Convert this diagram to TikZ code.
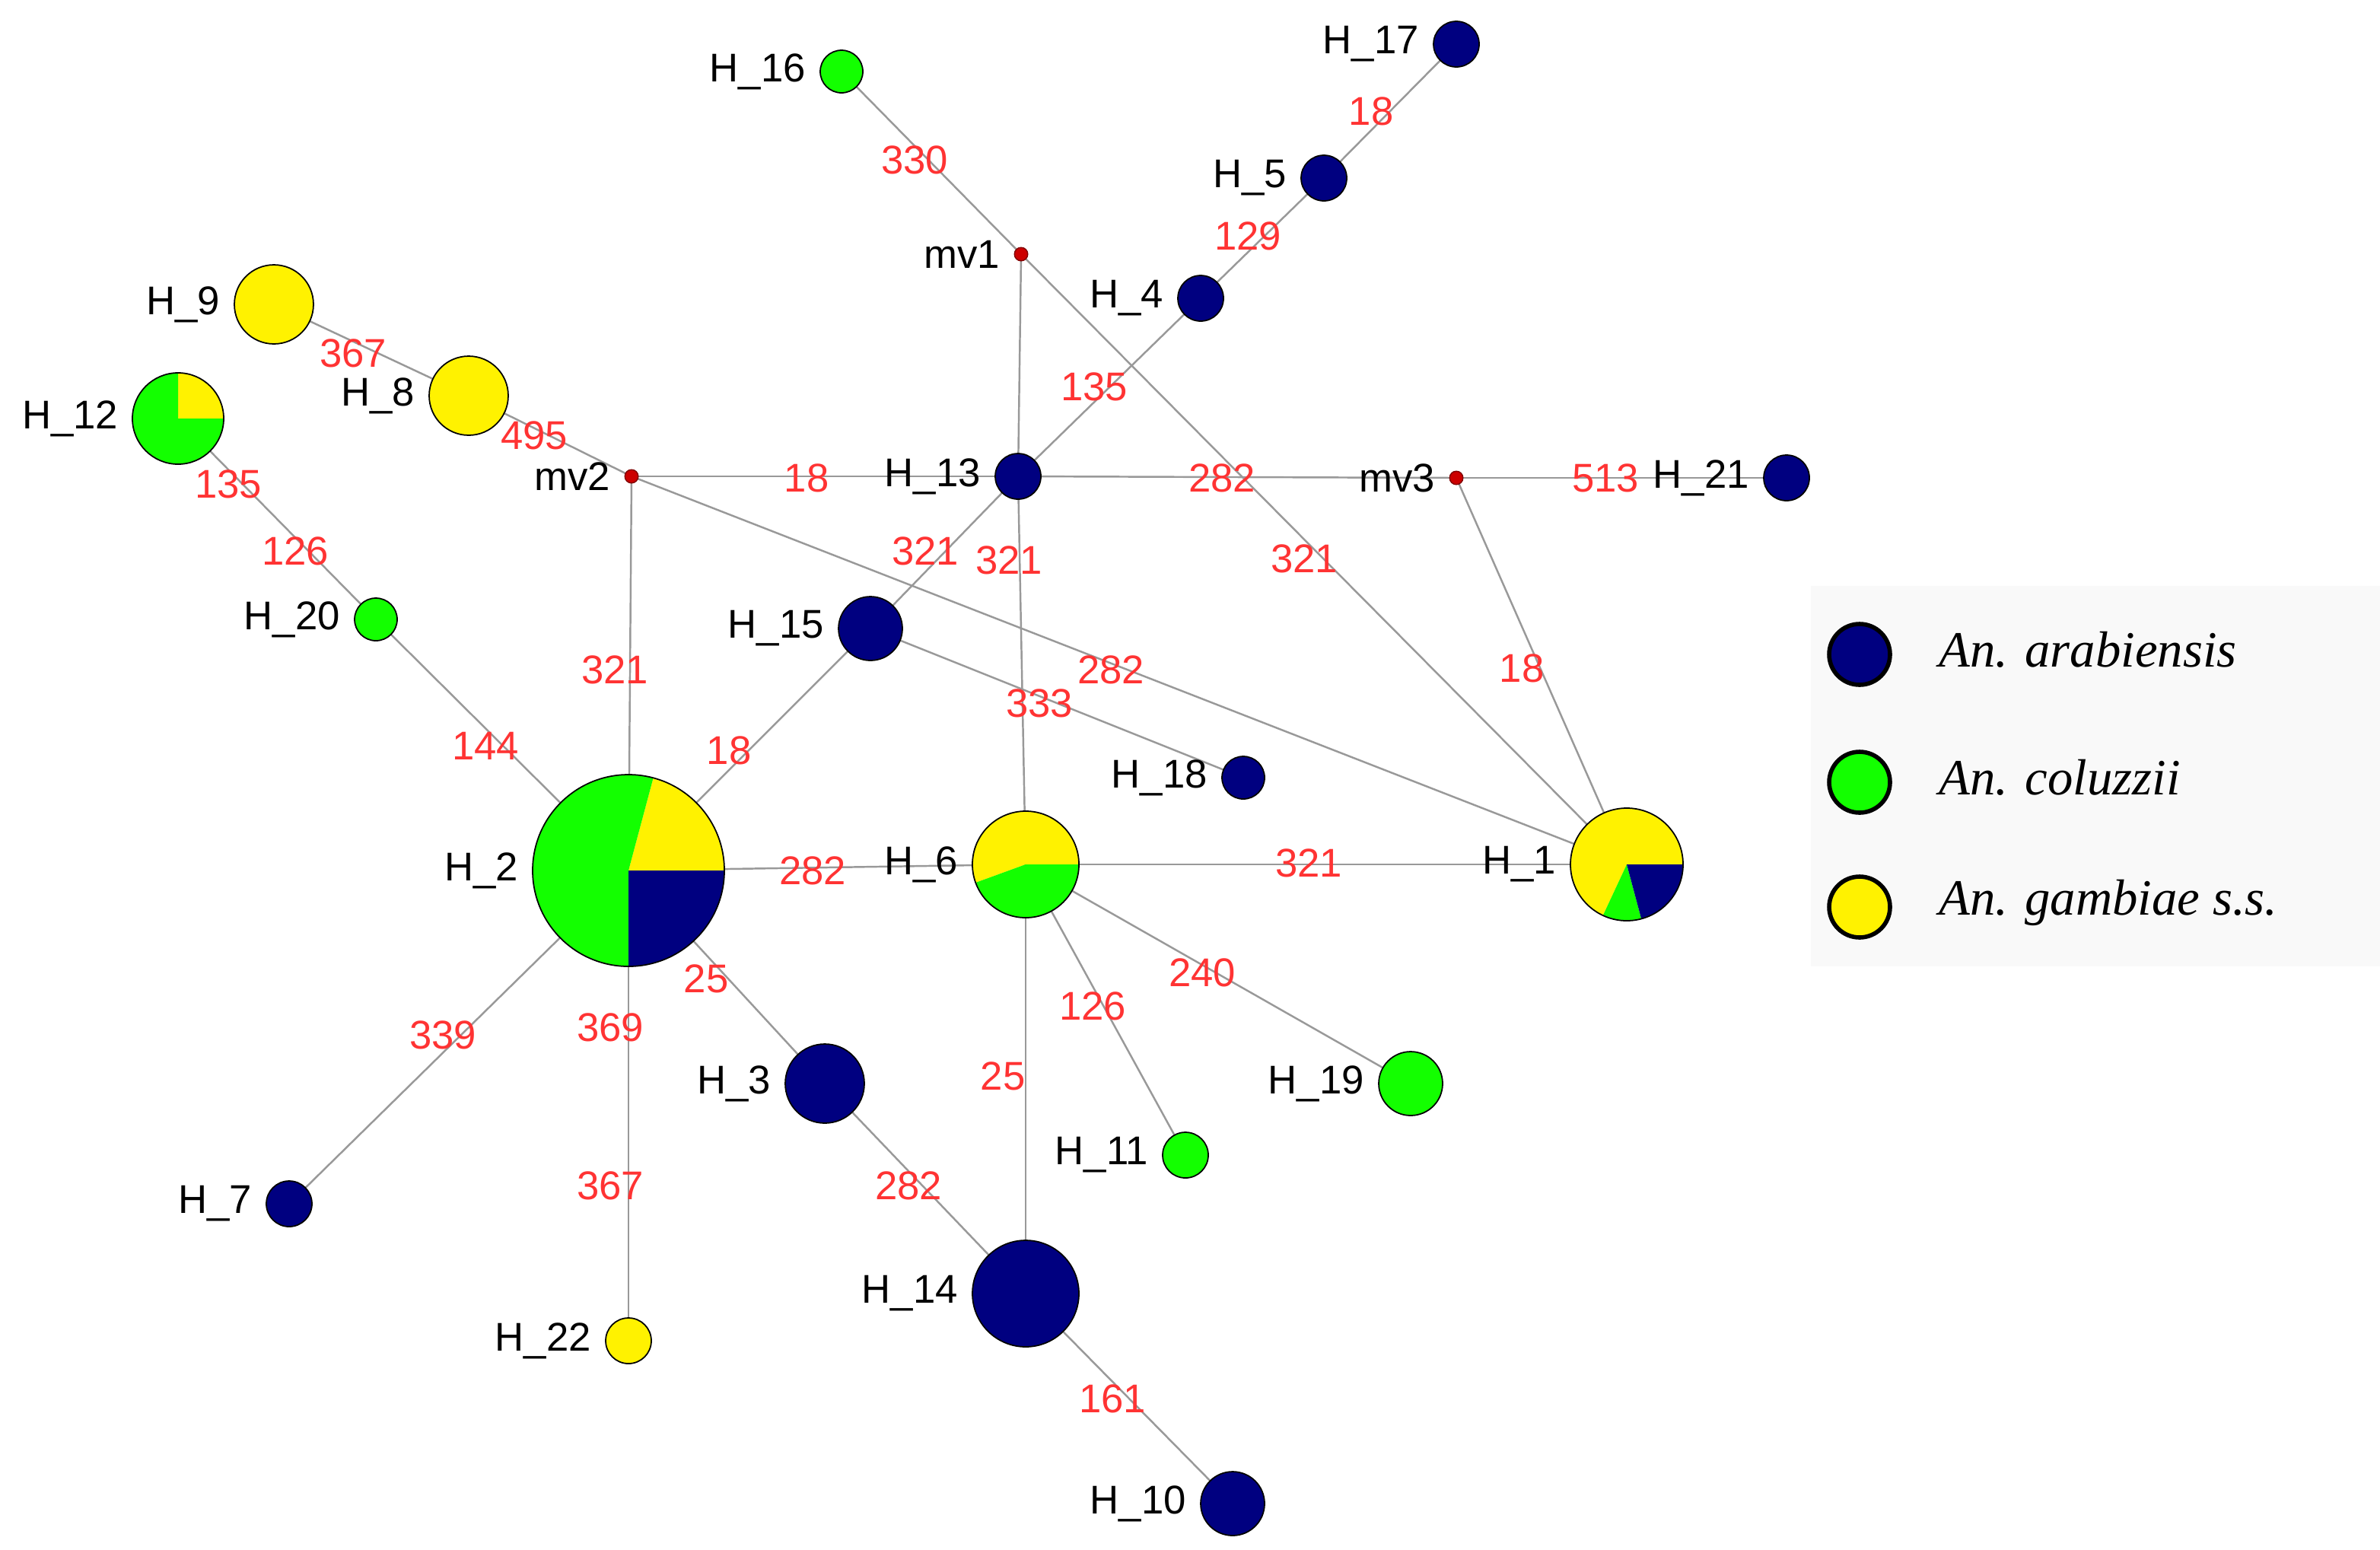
\documentclass[tikz,border=0pt]{standalone}
\usepackage{fontspec}
\setmainfont{Liberation Sans}
\newfontfamily\legfont{Liberation Serif}
\begin{document}
\begin{tikzpicture}[x=0.02cm,y=-0.02cm,
  edge/.style={draw=gray!80,line width=0.7pt},
  mut/.style={text=red!80!white,font=\fontsize{15}{15}\selectfont,inner sep=1pt},
  hl/.style={font=\fontsize{15}{15}\selectfont,inner sep=1pt,anchor=east},
  ara/.style={circle,fill=blue!50!black,draw=black,line width=0.5pt,inner sep=0pt},
  col/.style={circle,fill=green!90!lime,draw=black,line width=0.5pt,inner sep=0pt},
  gam/.style={circle,fill=yellow,draw=black,line width=0.5pt,inner sep=0pt},
  mv/.style={circle,fill=red!80!black,draw=red!50!black,inner sep=0pt,minimum size=5pt}]
\useasboundingbox (0,0) rectangle (1564,1018);
\def\hn#1#2#3#4#5{\node[#2,minimum size=#5*0.04cm] (#1) at (#3,#4) {};}
% nodes
\hn{h16}{col}{553}{47}{14}
\hn{h17}{ara}{957}{29}{15}
\hn{h5}{ara}{870}{117}{15}
\hn{h4}{ara}{789}{196}{15}
\hn{h9}{gam}{180}{200}{26}
\hn{h8}{gam}{308}{260}{26}
\node[circle,inner sep=0pt,minimum size=30*0.04cm] (h12) at (117,275) {};
\hn{h13}{ara}{669}{313}{15}
\hn{h21}{ara}{1174}{314}{15}
\hn{h20}{col}{247}{407}{14}
\hn{h15}{ara}{572}{413}{21}
\hn{h18}{ara}{817}{511}{14}
\node[circle,inner sep=0pt,minimum size=63*0.04cm] (h2) at (413,572) {};
\node[circle,inner sep=0pt,minimum size=35*0.04cm] (h6) at (674,568) {};
\node[circle,inner sep=0pt,minimum size=37*0.04cm] (h1) at (1069,568) {};
\hn{h3}{ara}{542}{712}{26}
\hn{h19}{col}{927}{712}{21}
\hn{h11}{col}{779}{759}{15}
\hn{h7}{ara}{190}{791}{15}
\hn{h14}{ara}{674}{850}{35}
\hn{h22}{gam}{413}{881}{15}
\hn{h10}{ara}{810}{988}{21}
\node[mv] (mv1) at (671,167) {};
\node[mv] (mv2) at (415,313) {};
\node[mv] (mv3) at (957,314) {};
% edges
\pgfdeclarelayer{bg}\pgfsetlayers{bg,main}
\begin{pgfonlayer}{bg}
\foreach \a/\b in {h16/mv1,h17/h5,h5/h4,h4/h13,mv1/h13,mv1/h1,h9/h8,h8/mv2,h12/h20,h20/h2,mv2/h13,h13/mv3,mv3/h21,mv3/h1,mv2/h2,mv2/h1,h13/h15,h13/h6,h15/h2,h15/h18,h2/h6,h6/h1,h6/h19,h6/h11,h6/h14,h2/h3,h3/h14,h14/h10,h2/h7,h2/h22}
  \draw[edge] (\a.center) -- (\b.center);
\end{pgfonlayer}
% pies
\newcommand\pwedge[6]{\fill[#6] (#1,#2) -- +(#4:#3) arc[start angle=#4,end angle=#5,radius=#3] -- cycle;}
\pwedge{117}{275}{30}{-90}{0}{yellow}
\pwedge{117}{275}{30}{0}{270}{green!90!lime}
\draw[line width=0.5pt] (117,275) circle[radius=30];
\pwedge{413}{572}{63}{-75}{0}{yellow}
\pwedge{413}{572}{63}{-270}{-75}{green!90!lime}
\pwedge{413}{572}{63}{0}{90}{blue!50!black}
\draw[line width=0.5pt] (413,572) circle[radius=63];
\pwedge{674}{568}{35}{-200}{0}{yellow}
\pwedge{674}{568}{35}{-360}{-200}{green!90!lime}
\draw[line width=0.5pt] (674,568) circle[radius=35];
\pwedge{1069}{568}{37}{-245}{0}{yellow}
\pwedge{1069}{568}{37}{-285}{-245}{green!90!lime}
\pwedge{1069}{568}{37}{-360}{-285}{blue!50!black}
\draw[line width=0.5pt] (1069,568) circle[radius=37];
% haplotype labels
\foreach \n/\t in {h16/H\_16,h17/H\_17,h5/H\_5,h4/H\_4,h9/H\_9,h8/H\_8,h12/H\_12,h13/H\_13,h21/H\_21,h20/H\_20,h15/H\_15,h18/H\_18,h2/H\_2,h6/H\_6,h1/H\_1,h3/H\_3,h19/H\_19,h11/H\_11,h7/H\_7,h14/H\_14,h22/H\_22,h10/H\_10,mv1/mv1,mv2/mv2,mv3/mv3}
  \node[hl] (l\n) at ([xshift=-4pt]\n.west) {\t};
% mutation labels
\foreach \t/\x/\y [count=\i] in {330/601/105,18/901/73,129/820/155,135/719/254,367/232/232,495/351/286,135/150/318,126/194/362,18/530/314,282/803/314,513/1055/314,321/608/362,321/663/368,321/857/367,18/1000/439,321/404/440,282/730/440,333/683/462,18/479/493,144/319/490,282/534/572,321/860/567,240/790/639,126/718/661,25/464/643,369/401/675,339/291/680,25/659/707,282/597/779,367/401/779,161/731/919}
  \node[mut] (m\i) at (\x,\y) {\t};
% legend
\fill[gray!5] (1190,385) rectangle (1564,635);
\foreach \c/\y/\t [count=\i] in {blue!50!black/430/An. arabiensis,green!90!lime/514/An. coluzzii,yellow/596/An. gambiae s.s.}{
  \node[circle,fill=\c,draw=black,line width=1.6pt,minimum size=20*0.04cm,inner sep=0pt] (lg\i) at (1222,\y) {};
  \node[anchor=west,font=\legfont\itshape\fontsize{19}{19}\selectfont] (lt\i) at (1268,\y-3) {\t};
}
\end{tikzpicture}
\end{document}
